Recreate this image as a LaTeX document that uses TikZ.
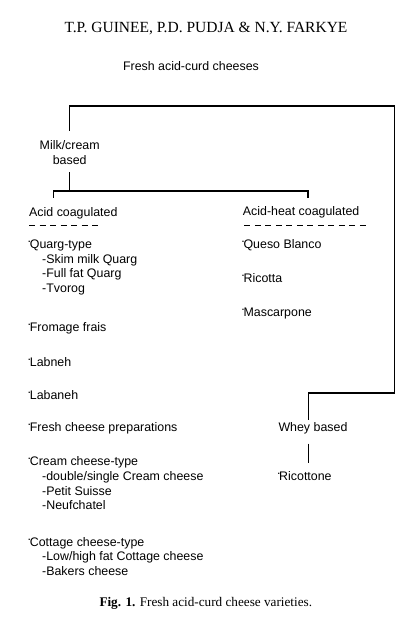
\documentclass[tikz,border=0pt]{standalone}
\usepackage{fontspec}
\setmainfont{Liberation Serif}
\newfontfamily\hsans{Liberation Sans}
\usetikzlibrary{calc}
\newcommand\bulletdot{\raisebox{6pt}{\makebox[2.2pt][l]{.}}}
\begin{document}
\begin{tikzpicture}[x=1pt,y=-1pt,
  txt/.style={font=\hsans\fontsize{12.4}{14.5}\selectfont, inner sep=0pt, anchor=base west},
  link/.style={line width=1.4pt, black},
  dashline/.style={line width=1.3pt, dash pattern=on 6pt off 4.5pt}]
\useasboundingbox[fill=white] (0,0) rectangle (411,625);

% heading and caption
\node[font=\fontsize{15.5}{18}\selectfont, anchor=base, inner sep=0pt] (title) at (206,32.3) {T.P. GUINEE, P.D. PUDJA \& N.Y. FARKYE};
\node[font=\fontsize{13.2}{15}\selectfont, anchor=base, inner sep=0pt] (caption) at (205.8,606.7) {\textbf{Fig. 1.} Fresh acid-curd cheese varieties.};

% tree labels
\node[txt, anchor=base] (root) at (191,70.7) {Fresh acid-curd cheeses};
\node[txt, anchor=base] (milkA) at (69.7,149) {Milk/cream};
\node[txt, anchor=base] (milkB) at (69.7,164.3) {based};
\node[txt] (acid) at (29,216) {Acid coagulated};
\node[txt] (heat) at (242.7,215.5) {Acid-heat coagulated};
\node[txt] (whey) at (278.3,431.7) {Whey based};

% left column
\node[txt] (quarg) at (27.5,248.3) {\bulletdot Quarg-type};
\node[txt] (skim) at (42,263.3) {-Skim milk Quarg};
\node[txt] (full) at (42,277.7) {-Full fat Quarg};
\node[txt] (tvorog) at (42,292.3) {-Tvorog};
\node[txt] (fromage) at (27.5,331) {\bulletdot Fromage frais};
\node[txt] (labneh) at (27.5,366.7) {\bulletdot Labneh};
\node[txt] (labaneh) at (27.5,399) {\bulletdot Labaneh};
\node[txt] (prep) at (27.5,431.7) {\bulletdot Fresh cheese preparations};
\node[txt] (cream) at (27.5,465.7) {\bulletdot Cream cheese-type};
\node[txt] (double) at (42,480) {-double/single Cream cheese};
\node[txt] (petit) at (42,495) {-Petit Suisse};
\node[txt] (neuf) at (42,509.3) {-Neufchatel};
\node[txt] (cottage) at (27.5,546.7) {\bulletdot Cottage cheese-type};
\node[txt] (lowhigh) at (42,560) {-Low/high fat Cottage cheese};
\node[txt] (bakers) at (42,575) {-Bakers cheese};

% right column
\node[txt] (queso) at (241.2,248.3) {\bulletdot Queso Blanco};
\node[txt] (ricotta) at (241.2,282.7) {\bulletdot Ricotta};
\node[txt] (mascarpone) at (241.2,316) {\bulletdot Mascarpone};
\node[txt] (ricottone) at (276.8,480) {\bulletdot Ricottone};

% dashed rules under headings
\draw[dashline] ($(acid.base west)+(0,9.3)$) -- ++(71,0);
\draw[dashline] ($(heat.base west)+(1.6,9.8)$) -- ++(124,0);

% connectors
\coordinate (topR) at (394.3,106);
\coordinate (wheyTurn) at (308.5,393);
\coordinate (barL) at (53.3,191);
\coordinate (barR) at (308,191);
\coordinate (tickL) at (53.3,197.7);
\coordinate (tickR) at (308,197.7);

\draw[link] ($(milkA.north)+(0,-9.3)$) |- (topR) |- (wheyTurn) -- ($(wheyTurn |- whey.north)+(0,-3)$);
\draw[link] ($(milkB.south)+(0,7.4)$) -- (milkB.south |- barL);
\draw[link] (tickL) -- (barL) -- (barR) -- (tickR);
\draw[link] ($(wheyTurn |- whey.south)+(0,9.1)$) -- ($(wheyTurn |- ricottone.north)+(0,-7.8)$);
\end{tikzpicture}
\end{document}
